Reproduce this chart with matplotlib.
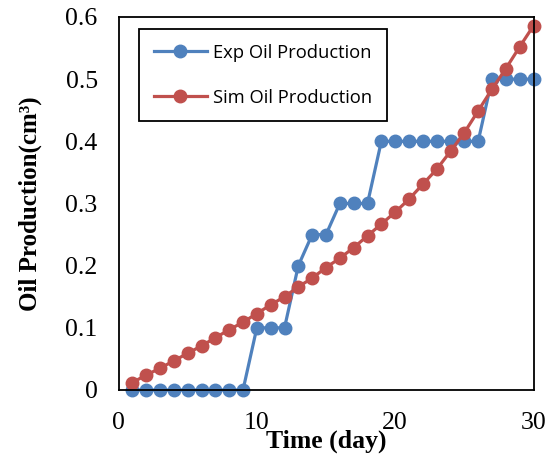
import numpy as np
import matplotlib.pyplot as plt

# --- Daten ---
days = np.arange(1, 31)
exp_oil = [0, 0, 0, 0, 0, 0, 0, 0, 0,
           0.1, 0.1, 0.1, 0.2, 0.25, 0.25, 0.3, 0.3, 0.3,
           0.4, 0.4, 0.4, 0.4, 0.4, 0.4, 0.4, 0.4,
           0.5, 0.5, 0.5, 0.5]
sim_oil = [0.012, 0.024, 0.035, 0.047, 0.059, 0.071, 0.084, 0.097, 0.109, 0.123,
           0.137, 0.150, 0.166, 0.180, 0.197, 0.212, 0.229, 0.248, 0.267, 0.286,
           0.307, 0.331, 0.355, 0.384, 0.414, 0.449, 0.484, 0.517, 0.552, 0.586]
x_ticks = [0, 10, 20, 30]
y_ticks = [0, 0.1, 0.2, 0.3, 0.4, 0.5, 0.6]
y_ticklabels = ['0', '0.1', '0.2', '0.3', '0.4', '0.5', '0.6']

blue = '#4F81BD'
red = '#C0504D'

fig = plt.figure(figsize=(5.56, 4.61), dpi=100)
ax = fig.add_axes([118.5/556, 1 - 390/461, 415/556, 373/461])

ax.plot(days, exp_oil, '-o', color=blue, lw=2.3, ms=9, label='Exp Oil Production', clip_on=False)
ax.plot(days, sim_oil, '-o', color=red, lw=2.3, ms=9, label='Sim Oil Production', clip_on=False)

ax.set_xlim(0, 30)
ax.set_ylim(0, 0.6)
ax.set_xticks(x_ticks)
ax.set_yticks(y_ticks)
ax.set_yticklabels(y_ticklabels)
ax.tick_params(length=0, labelsize=18.5)
ax.tick_params(axis='y', pad=15)
ax.tick_params(axis='x', pad=16)
for lab in ax.get_xticklabels() + ax.get_yticklabels():
    lab.set_fontfamily('Liberation Serif')
for s in ax.spines.values():
    s.set_linewidth(1.3)

ax.set_xlabel('Time (day)', fontfamily='Liberation Serif', fontweight='bold', fontsize=18.5, labelpad=-3)
ax.set_ylabel('Oil Production(cm³)', fontfamily='Liberation Serif', fontweight='bold', fontsize=18, labelpad=17)

leg = ax.legend(loc='upper left', bbox_to_anchor=(0.049, 0.968), frameon=True, fancybox=False,
                edgecolor='black', framealpha=1, prop={'family': 'Open Sans', 'size': 13.2},
                handlelength=2.9, labelspacing=1.48, borderpad=0.8, handletextpad=0.35,
                borderaxespad=0)
leg.get_frame().set_linewidth(1.3)

plt.savefig('out.png', dpi=100)
